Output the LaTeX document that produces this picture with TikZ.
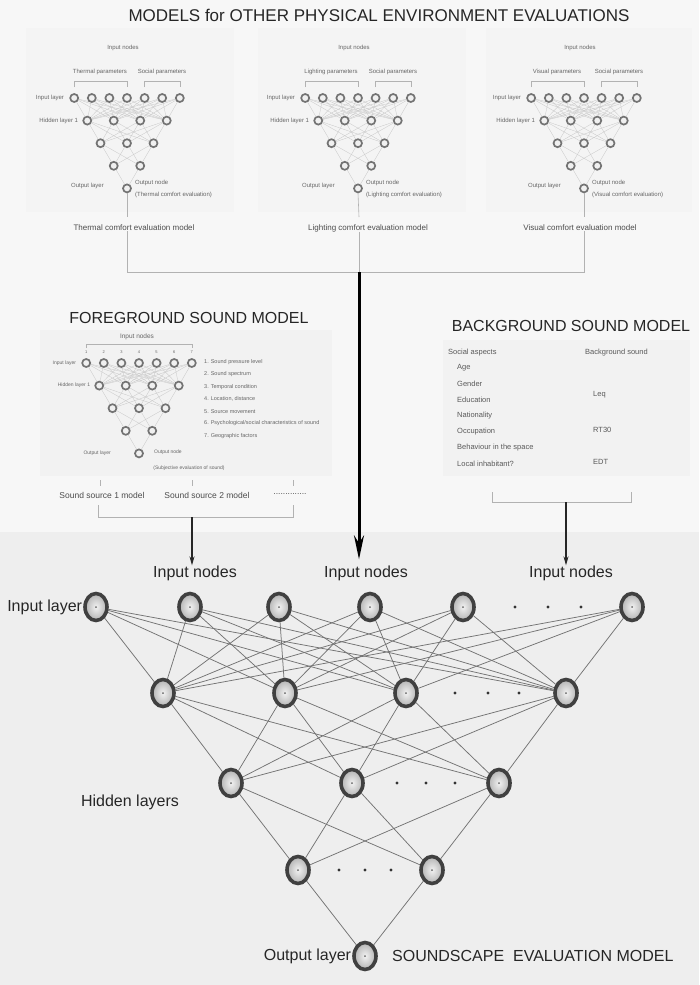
\documentclass[tikz,border=0pt]{standalone}
\usepackage{fontspec}
\setmainfont{Liberation Sans}
\usetikzlibrary{shapes.geometric,arrows.meta,calc}
\pgfdeclarelayer{back}
\pgfdeclarelayer{bg}
\pgfsetlayers{back,bg,main}
\newcommand\annmodel[3]{%
  \foreach \i in {1,...,7} \node[smallnode] (#1a\i) at ({#2+(\i-4)*17.6},#3) {};
  \foreach \i in {1,...,4} \node[smallnode] (#1b\i) at ({#2+(\i-2.5)*26.5},{#3+22.6}) {};
  \foreach \i in {1,2,3} \node[smallnode] (#1c\i) at ({#2+(\i-2)*26.5},{#3+45.2}) {};
  \foreach \i in {1,2} \node[smallnode] (#1d\i) at ({#2+(\i-1.5)*26.5},{#3+67.8}) {};
  \node[smallnode] (#1e) at (#2,{#3+90.4}) {};
  \begin{pgfonlayer}{bg}
    \foreach \i in {1,...,7}{\foreach \j in {1,...,4}{\draw[smalledge] (#1a\i) -- (#1b\j);}}
    \foreach \i in {1,...,4}{\foreach \j in {1,2,3}{\draw[smalledge] (#1b\i) -- (#1c\j);}}
    \foreach \i in {1,2,3}{\foreach \j in {1,2}{\draw[smalledge] (#1c\i) -- (#1d\j);}}
    \foreach \i in {1,2}{\draw[smalledge] (#1d\i) -- (#1e);}
  \end{pgfonlayer}
}
\begin{document}
\begin{tikzpicture}[x=1pt,y=-1pt,
  bignode/.style={ellipse, minimum width=22pt, minimum height=27pt, inner sep=0pt,
    draw=black!75, line width=3.6pt, inner color=gray!10, outer color=gray!60,
    path picture={\fill[black!60] (path picture bounding box.center) circle (1pt);}},
  smallnode/.style={circle, minimum size=8pt, inner sep=0pt, draw=black!55, line width=1.7pt, fill=gray!12},
  bigedge/.style={draw=black!55, line width=0.75pt},
  smalledge/.style={draw=gray!45, line width=0.3pt},
  bracket/.style={draw=gray!60, line width=0.6pt},
  maintext/.style={font=\fontsize{16}{18}\selectfont, text=black!85, inner sep=0pt},
  titletext/.style={font=\fontsize{17}{19}\selectfont, text=black!85, inner sep=0pt},
  tinytext/.style={font=\fontsize{6}{7}\selectfont, text=black!60, inner sep=0pt},
  fgtiny/.style={font=\fontsize{5}{6}\selectfont, text=black!60, inner sep=0pt},
  fglist/.style={font=\fontsize{5.5}{6.5}\selectfont, text=black!60, inner sep=0pt, anchor=west},
  numtext/.style={font=\fontsize{4}{5}\selectfont, text=black!60, inner sep=0pt},
  evaltext/.style={font=\fontsize{8}{9}\selectfont, text=black!70, inner sep=0pt},
  srctext/.style={font=\fontsize{8.5}{10}\selectfont, text=black!70, inner sep=0pt},
  bgtext/.style={font=\fontsize{7.5}{9}\selectfont, text=black!65, inner sep=0pt, anchor=west},
  sidearrow/.style={draw=black!85, line width=1.2pt, -{Stealth[length=9pt,width=5pt]}},
  bigarrow/.style={draw=black, line width=3pt, -{Stealth[length=24pt,width=10pt]}},
  vline/.style={draw=gray!60, line width=0.6pt}
]
\useasboundingbox (0,0) rectangle (699,985);
\begin{pgfonlayer}{back}
  \fill[gray!6] (0,0) rectangle (699,985);
  \fill[gray!13] (0,532) rectangle (699,985);
  \fill[gray!9] (26,28) rectangle (234,212);
  \fill[gray!9] (258,28) rectangle (466,212);
  \fill[gray!9] (486,28) rectangle (692,212);
  \fill[gray!10] (40,330) rectangle (332,476);
  \fill[gray!10] (443,340) rectangle (690,476);
\end{pgfonlayer}

% ---------- title ----------
\node[titletext] (title) at (379,15) {MODELS for OTHER PHYSICAL ENVIRONMENT EVALUATIONS};

% ---------- top small models ----------
\annmodel{T}{127}{98}
\annmodel{L}{358}{98}
\annmodel{V}{584}{98}

\foreach \p/\cx/\pname in {T/127/Thermal, L/358/Lighting, V/584/Visual}{
  \node[tinytext] (\p in) at ({\cx-4},48) {Input nodes};
  \node[tinytext] (\p par) at ({\cx-27},72) {\pname\ parameters};
  \node[tinytext] (\p soc) at ({\cx+35},72) {Social parameters};
  \draw[bracket] ($(\p a1)+(0,-11)$) -- ($(\p a1)+(0,-17)$) -- ($(\p a4)+(0,-17)$) -- ($(\p a4)+(0,-11)$);
  \draw[bracket] ($(\p a5)+(0,-11)$) -- ($(\p a5)+(0,-17)$) -- ($(\p a7)+(0,-17)$) -- ($(\p a7)+(0,-11)$);
  \node[tinytext, anchor=east] (\p lin) at ($(\p a1)+(-10,0)$) {Input layer};
  \node[tinytext, anchor=east] (\p hid) at ($(\p b1)+(-9,0)$) {Hidden layer 1};
  \node[tinytext, anchor=east] (\p ol) at ($(\p e)+(-23,-2)$) {Output layer};
  \node[tinytext, anchor=west] (\p on) at ($(\p e)+(8,-5)$) {Output node};
  \node[tinytext, anchor=west] (\p oe) at ($(\p e)+(8,7)$) {(\pname\ comfort evaluation)};
}

\coordinate (Tend) at (127,217);
\coordinate (Lend) at (359,217);
\coordinate (Vend) at (584,217);
\coordinate (brk) at (359,272);
\node[evaltext] (Tml) at (134,228) {Thermal comfort evaluation model};
\node[evaltext] (Lml) at (368,228) {Lighting comfort evaluation model};
\node[evaltext] (Vml) at (580,228) {Visual comfort evaluation model};
\draw[vline] (Te.south) -- (Tend);
\draw[vline] (Le.south) -- (Lend);
\draw[vline] (Ve.south) -- (Vend);
\draw[vline] (Tml.south -| Tend) -- (Tend |- brk) -- (Vend |- brk) -- (Vml.south -| Vend);
\draw[vline] (Lml.south -| Lend) -- (brk);

% ---------- foreground sound model ----------
\node[maintext] (Ftitle) at (189,318) {FOREGROUND SOUND MODEL};
\annmodel{F}{139}{363}
\node[font=\fontsize{6.5}{7.5}\selectfont, text=black!60, inner sep=0pt] (Fin) at (137,337) {Input nodes};
\draw[bracket] ($(Fa1)+(0,-15)$) -- ($(Fa1)+(0,-19)$) -- ($(Fa7)+(0,-19)$) -- ($(Fa7)+(0,-15)$);
\foreach \i in {1,...,7} \node[numtext] (Fn\i) at ($(Fa\i)+(0,-11)$) {\i};
\node[fgtiny, anchor=east] (Flin) at ($(Fa1)+(-10,0)$) {Input layer};
\node[fgtiny, anchor=east] (Fhid) at ($(Fb1)+(-9,0)$) {Hidden layer 1};
\node[fgtiny, anchor=east] (Fol) at ($(Fe)+(-28,0)$) {Output layer};
\node[fgtiny, anchor=west] (Fon) at ($(Fe)+(15,-1)$) {Output node};
\node[fgtiny] (Foe) at (189,468) {(Subjective evaluation of sound)};
\foreach \t [count=\k] in {1. Sound pressure level, 2. Sound spectrum, 3. Temporal condition, {4. Location, distance}, 5. Source movement, 6. Psychological/social characteristics of sound, 7. Geographic factors}
  \node[fglist] (Fl\k) at (204,{362+(\k-1)*12.3}) {\t};

\node[srctext] (S1) at (102,495) {Sound source 1 model};
\node[srctext] (S2) at (207,495) {Sound source 2 model};
\node[srctext] (S3) at (290,494) {..............};
\draw[vline] (100,480) -- (100,486);
\draw[vline] (192,480) -- (192,486);
\draw[vline] (293,480) -- (293,486);
\coordinate (fbrk) at (192,517);
\draw[vline] (98,505) -- (98,517) -- (293,517) -- (293,505);

% ---------- background sound model ----------
\node[maintext] (Btitle) at (571,326) {BACKGROUND SOUND MODEL};
\node[bgtext] (Bsoc) at (448,353) {Social aspects};
\node[bgtext] (Bbs) at (585,353) {Background sound};
\foreach \t [count=\k] in {Age, Gender, Education, Nationality, Occupation, Behaviour in the space, Local inhabitant?}
  \node[bgtext] (Bi\k) at (457,{368+(\k-1)*15.9}) {\t};
\node[bgtext] (Bleq) at (593,395) {Leq};
\node[bgtext] (Brt) at (593,430) {RT30};
\node[bgtext] (Bedt) at (593,462) {EDT};
\coordinate (bbrk) at (566,502);
\draw[vline] (492,492) -- (492,502) -- (631,502) -- (631,492);

% ---------- main network ----------
\node[maintext] (IN1) at (195,573) {Input nodes};
\node[maintext] (IN2) at (366,573) {Input nodes};
\node[maintext] (IN3) at (571,573) {Input nodes};
\draw[sidearrow] (fbrk) -- (fbrk |- IN1.north);
\draw[sidearrow] (bbrk) -- (bbrk |- IN3.north);
\draw[bigarrow] (brk) -- ($(brk |- IN2.north)+(0,-6)$);

\foreach \x [count=\i] in {96,190,279,370,463,632} \node[bignode] (ma\i) at (\x,607) {};
\foreach \x [count=\i] in {163,285,406,566} \node[bignode] (mb\i) at (\x,693) {};
\foreach \x [count=\i] in {231,352,499} \node[bignode] (mc\i) at (\x,783) {};
\foreach \x [count=\i] in {298,432} \node[bignode] (md\i) at (\x,870) {};
\node[bignode] (me) at (365,956) {};

\begin{pgfonlayer}{bg}
  \foreach \i in {1,...,6}{\foreach \j in {1,...,4}{\draw[bigedge] (ma\i) -- (mb\j);}}
  \foreach \i in {1,...,4}{\foreach \j in {1,2,3}{\draw[bigedge] (mb\i) -- (mc\j);}}
  \foreach \i in {1,2,3}{\foreach \j in {1,2}{\draw[bigedge] (mc\i) -- (md\j);}}
  \foreach \i in {1,2}{\draw[bigedge] (md\i) -- (me);}
\end{pgfonlayer}

\foreach \x in {515,548,581} \fill[black!80] (\x,607) circle (1.6pt);
\foreach \x in {455,488,519} \fill[black!80] (\x,693) circle (1.6pt);
\foreach \x in {397,426,455} \fill[black!80] (\x,783) circle (1.6pt);
\foreach \x in {339,365,391} \fill[black!80] (\x,870) circle (1.6pt);

\node[maintext, anchor=east] (Lin) at ($(ma1.west)+(-1,0)$) {Input layer};
\node[maintext] (Lhid) at (130,802) {Hidden layers};
\node[maintext, anchor=east] (Lout) at ($(me.west)+(-1,0)$) {Output layer};
\node[maintext, anchor=west] (Lsm) at (392,956) {SOUNDSCAPE\ \ EVALUATION MODEL};
\end{tikzpicture}
\end{document}
